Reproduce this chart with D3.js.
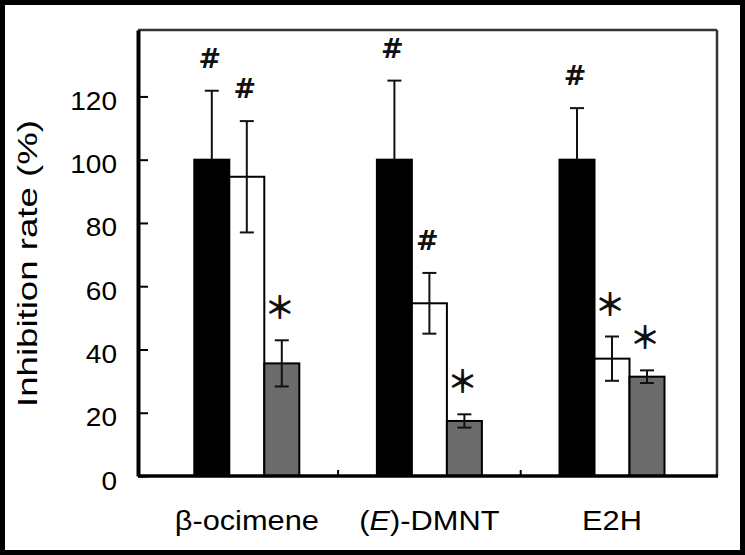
<!DOCTYPE html>
<html lang="en">
<head>
  <meta charset="UTF-8">
  <title>Inhibition rate</title>
  <style>
    body { margin: 0; background: #fff; }
    svg { display: block; }
  </style>
</head>
<body>
  <svg id="chart" width="745" height="555"></svg>
  <script src="https://d3js.org/d3.v7.min.js"></script>
  <script>
    // values
    const categories = ["β-ocimene", "(E)-DMNT", "E2H"];
    const series = ["black", "white", "gray"];
    const meanBlack = [100, 100, 100];
    const meanWhite = [94.6, 54.6, 37.1];
    const meanGray = [35.6, 17.4, 31.4];
    const errBlack = [21.8, 25.0, 16.3];
    const errWhite = [17.6, 9.6, 7.0];
    const errGray = [7.3, 2.1, 2.0];
    const markBlack = ["#", "#", "#"];
    const markWhite = ["#", "#", "*"];
    const markGray = ["*", "*", "*"];
    const yTicks = [0, 20, 40, 60, 80, 100, 120];
    const yMax = 141;

    const means = { black: meanBlack, white: meanWhite, gray: meanGray };
    const errs = { black: errBlack, white: errWhite, gray: errGray };
    const marks = { black: markBlack, white: markWhite, gray: markGray };
    const fills = { black: "#000", white: "#fff", gray: "#6b6b6b" };

    const rows = [];
    categories.forEach((c, i) => {
      series.forEach(s => {
        rows.push({ cat: c, s: s, v: means[s][i], e: errs[s][i], mark: marks[s][i] });
      });
    });

    const svg = d3.select("#chart");
    const plotL = 138, plotR = 717, plotT = 30, plotB = 476;

    const y = d3.scaleLinear().domain([0, yMax]).range([plotB, plotT]);
    const x = d3.scaleBand().domain(categories).range([155.5, 703.3]);
    const x1 = d3.scaleBand().domain(series).range([0, 105]);
    const barX = d => x(d.cat) + (x.bandwidth() - 105) / 2 + x1(d.s);
    const barC = d => barX(d) + x1.bandwidth() / 2;
    const lowEnd = d => d.s === "black" ? d.v : d.v - d.e;

    // outer picture border
    svg.append("rect")
      .attr("x", 2.5).attr("y", 2.5)
      .attr("width", 740).attr("height", 550)
      .attr("fill", "none").attr("stroke", "#000").attr("stroke-width", 5);

    // bars
    svg.append("g")
      .selectAll("rect")
      .data(rows)
      .join("rect")
      .attr("x", barX)
      .attr("y", d => y(d.v))
      .attr("width", x1.bandwidth())
      .attr("height", d => y(0) - y(d.v))
      .attr("fill", d => fills[d.s])
      .attr("stroke", "#000")
      .attr("stroke-width", 2);

    // error bars
    const eg = svg.append("g").attr("stroke", "#111").attr("stroke-width", 2);
    eg.selectAll("line.v").data(rows).join("line").attr("class", "v")
      .attr("x1", barC).attr("x2", barC)
      .attr("y1", d => y(lowEnd(d))).attr("y2", d => y(d.v + d.e));
    eg.selectAll("line.t").data(rows).join("line").attr("class", "t")
      .attr("x1", d => barC(d) - 7).attr("x2", d => barC(d) + 7)
      .attr("y1", d => y(d.v + d.e)).attr("y2", d => y(d.v + d.e));
    eg.selectAll("line.b").data(rows.filter(d => d.s !== "black")).join("line").attr("class", "b")
      .attr("x1", d => barC(d) - 7).attr("x2", d => barC(d) + 7)
      .attr("y1", d => y(d.v - d.e)).attr("y2", d => y(d.v - d.e));

    // significance marks
    svg.append("g")
      .selectAll("text")
      .data(rows)
      .join("text")
      .attr("x", d => barC(d) - 2)
      .attr("y", d => {
        const cy = y(d.v + d.e) - 33;
        return d.mark === "#" ? cy + 10 : cy + 12;
      })
      .attr("text-anchor", "middle")
      .attr("font-family", d => d.mark === "#" ? "DejaVu Sans" : "Noto Sans CJK JP")
      .attr("font-weight", "bold")
      .attr("font-size", d => d.mark === "#" ? 27 : 31)
      .attr("fill", "#111")
      .text(d => d.mark === "#" ? "#" : "＊");

    // frame: top and right thin
    svg.append("line").attr("x1", plotL).attr("x2", plotR).attr("y1", plotT).attr("y2", plotT)
      .attr("stroke", "#333").attr("stroke-width", 2.5);
    svg.append("line").attr("x1", plotR).attr("x2", plotR).attr("y1", plotT).attr("y2", plotB)
      .attr("stroke", "#333").attr("stroke-width", 2.5);

    // x axis line and inner ticks between groups
    svg.append("line").attr("x1", plotL).attr("x2", plotR + 1).attr("y1", plotB).attr("y2", plotB)
      .attr("stroke", "#000").attr("stroke-width", 3.5);
    svg.append("g")
      .selectAll("line")
      .data(categories.slice(1))
      .join("line")
      .attr("x1", d => x(d)).attr("x2", d => x(d))
      .attr("y1", plotB).attr("y2", plotB - 6)
      .attr("stroke", "#000").attr("stroke-width", 2);

    // y axis
    const yAxis = svg.append("g")
      .attr("transform", `translate(${plotL},0)`)
      .call(d3.axisLeft(y).tickValues(yTicks).tickSize(-10).tickSizeOuter(0));
    yAxis.select(".domain").attr("stroke", "#000").attr("stroke-width", 4);
    yAxis.selectAll(".tick line").attr("stroke", "#000").attr("stroke-width", 2);
    yAxis.selectAll(".tick text")
      .attr("x", 0)
      .attr("dy", "0.32em")
      .attr("transform", "translate(-21,5) scale(1.12,1)")
      .attr("font-family", "Liberation Sans, Arial, sans-serif")
      .attr("font-size", 25)
      .attr("fill", "#000");

    // y axis title
    svg.append("text")
      .attr("transform", "translate(37,263.5) rotate(-90)")
      .attr("text-anchor", "middle")
      .attr("font-family", "Liberation Sans, Arial, sans-serif")
      .attr("font-size", 28)
      .attr("textLength", 287)
      .attr("lengthAdjust", "spacingAndGlyphs")
      .attr("fill", "#000")
      .text("Inhibition rate (%)");

    // category labels
    const cl = svg.append("g")
      .selectAll("text")
      .data(categories)
      .join("text")
      .attr("transform", d => `translate(${x(d) + x.bandwidth() / 2},530) scale(1.14,1)`)
      .attr("text-anchor", "middle")
      .attr("font-family", "Liberation Sans, Arial, sans-serif")
      .attr("font-size", 27)
      .attr("fill", "#000");
    cl.each(function (d) {
      const t = d3.select(this);
      const m = d.match(/^\((.)\)(.*)$/);
      if (m) {
        t.append("tspan").text("(");
        t.append("tspan").attr("font-style", "italic").text(m[1]);
        t.append("tspan").text(")" + m[2]);
      } else {
        t.text(d);
      }
    });
  </script>
</body>
</html>
